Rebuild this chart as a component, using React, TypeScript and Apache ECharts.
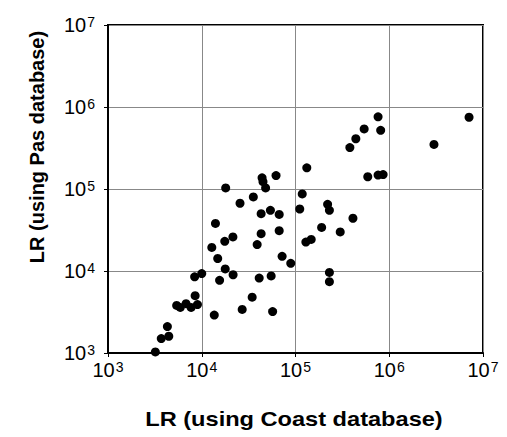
import React, { useEffect, useRef } from "react";
import * as echarts from "echarts";

// LR computed with the Coast database (x) and with the Pas database (y)
const coastLR: number[] = [
  7.6e5, 5.4e5, 8.1e5, 4.4e5, 3.8e5, 3.0e6, 7.1e6, 1.32e5, 5.9e5, 7.6e5,
  8.6e5, 1.18e5, 1.11e5, 2.2e5, 2.3e5, 4.1e5, 1.9e5, 3.0e5, 1.29e5, 1.47e5,
  6.7e4, 6.7e4, 7.2e4, 8.9e4, 2.3e5, 2.3e5, 6.2e4, 4.4e4, 4.5e4, 4.8e4,
  1.8e4, 3.55e4, 2.56e4, 4.3e4, 5.4e4, 1.4e4, 4.3e4, 2.15e4, 1.76e4, 3.9e4,
  1.28e4, 1.48e4, 1.78e4, 8.4e3, 1.0e4, 1.55e4, 2.16e4, 4.1e4, 5.5e4, 8.5e3,
  3.45e4, 5.4e3, 5.9e3, 6.8e3, 7.7e3, 9.0e3, 1.36e4, 2.7e4, 5.7e4, 4.3e3,
  3.7e3, 4.45e3, 3.2e3,
];
const pasLR: number[] = [
  7.6e5, 5.4e5, 5.2e5, 4.1e5, 3.2e5, 3.5e5, 7.5e5, 1.81e5, 1.41e5, 1.48e5,
  1.5e5, 8.7e4, 5.7e4, 6.5e4, 5.5e4, 4.4e4, 3.4e4, 3.0e4, 2.25e4, 2.43e4,
  4.9e4, 3.1e4, 1.51e4, 1.24e4, 9.6e3, 7.4e3, 1.46e5, 1.37e5, 1.23e5, 1.03e5,
  1.03e5, 8.0e4, 6.7e4, 5.0e4, 5.5e4, 3.8e4, 2.85e4, 2.6e4, 2.3e4, 2.1e4,
  1.94e4, 1.42e4, 1.06e4, 8.5e3, 9.3e3, 7.7e3, 9.0e3, 8.2e3, 8.7e3, 5.0e3,
  4.8e3, 3.8e3, 3.6e3, 4.0e3, 3.6e3, 3.9e3, 2.9e3, 3.4e3, 3.2e3, 2.1e3,
  1.5e3, 1.6e3, 1.03e3,
];

const axisMin = 1e3;
const axisMax = 1e7;
const xAxisTitle = "LR (using Coast database)";
const yAxisTitle = "LR (using Pas database)";

const FONT = "'Liberation Sans', Arial, sans-serif";

const tickFormatter = (v: number) => {
  const e = Math.round(Math.log10(v));
  return `{b|10}{s|${e}}`;
};

const richLabel = {
  b: { fontSize: 20, fontFamily: FONT, color: "#000" },
  s: { fontSize: 14, fontFamily: FONT, color: "#000", verticalAlign: "top", padding: [0, 0, 6, 1] },
};

export default function App() {
  const ref = useRef<HTMLDivElement>(null);

  useEffect(() => {
    if (!ref.current) return;
    const chart = echarts.init(ref.current, undefined, { renderer: "svg" });
    const data = coastLR.map((x, i) => [x, pasLR[i]]);
    chart.setOption({
      animation: false,
      backgroundColor: "#fff",
      grid: {
        left: 108,
        right: 24,
        top: 25,
        bottom: 84,
        show: true,
        borderColor: "#000",
        borderWidth: 2,
      },
      xAxis: {
        type: "log",
        logBase: 10,
        min: axisMin,
        max: axisMax,
        axisLine: { show: true, lineStyle: { color: "#000", width: 2 } },
        axisTick: { show: true, length: 4, lineStyle: { color: "#000" } },
        minorTick: { show: false },
        splitLine: { show: true, lineStyle: { color: "#888", width: 1 } },
        axisLabel: {
          formatter: tickFormatter,
          rich: richLabel,
          margin: 7,
          showMinLabel: true,
          showMaxLabel: true,
        },
      },
      yAxis: {
        type: "log",
        logBase: 10,
        min: axisMin,
        max: axisMax,
        axisLine: { show: true, lineStyle: { color: "#000", width: 2 } },
        axisTick: { show: true, length: 4, lineStyle: { color: "#000" } },
        splitLine: { show: true, lineStyle: { color: "#888", width: 1 } },
        axisLabel: {
          formatter: tickFormatter,
          rich: richLabel,
          margin: 13,
          showMinLabel: true,
          showMaxLabel: true,
        },
      },
      graphic: [
        {
          type: "text",
          x: 294,
          y: 419,
          scaleX: 1.18,
          style: {
            text: xAxisTitle,
            font: `bold 20px ${FONT}`,
            fill: "#000",
            textAlign: "center",
            textVerticalAlign: "middle",
          },
        },
        {
          type: "text",
          x: 37,
          y: 147,
          rotation: Math.PI / 2,
          style: {
            text: yAxisTitle,
            font: `bold 20px ${FONT}`,
            fill: "#000",
            textAlign: "center",
            textVerticalAlign: "middle",
          },
        },
      ],
      series: [
        {
          type: "scatter",
          data,
          symbol: "circle",
          symbolSize: 9,
          clip: false,
          itemStyle: { color: "#000", opacity: 1 },
        },
      ],
    });
    return () => chart.dispose();
  }, []);

  return (
    <div
      ref={ref}
      style={{ position: "fixed", left: 0, top: 0, width: 507, height: 437 }}
    />
  );
}
